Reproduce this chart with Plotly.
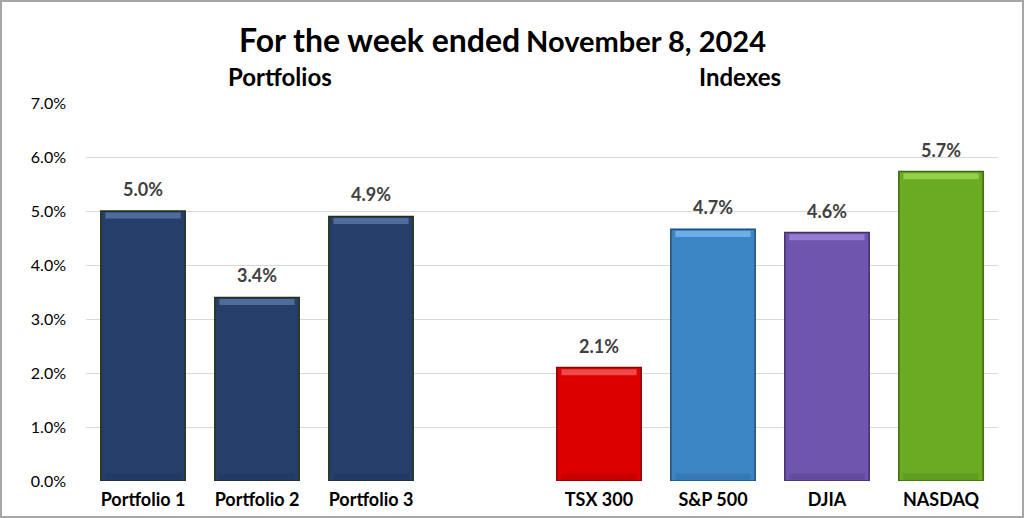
import plotly.graph_objects as go

# ---- data ----
categories = ["Portfolio 1", "Portfolio 2", "Portfolio 3", "", "TSX 300", "S&P 500", "DJIA", "NASDAQ"]
values = [5.0, 3.4, 4.9, None, 2.1, 4.66, 4.6, 5.73]
labels = ["5.0%", "3.4%", "4.9%", "", "2.1%", "4.7%", "4.6%", "5.7%"]
bar_colors = ["#263F6A", "#263F6A", "#263F6A", "#FFFFFF", "#DC0000", "#3D86C6", "#6F55AE", "#6AAB22"]
edge_colors = ["#1E3512", "#1E3512", "#1E3512", "#FFFFFF", "#8A0000", "#1F4E79", "#3F2F6A", "#3D6612"]
hi_colors = ["#4F6C9C", "#4F6C9C", "#4F6C9C", "#FFFFFF", "#F04848", "#6EAEE6", "#957ED2", "#93CF4A"]
lo_colors = ["#223A62", "#223A62", "#223A62", "#FFFFFF", "#C40000", "#3779B4", "#644C9E", "#609D1F"]
y_ticks = [0, 1, 2, 3, 4, 5, 6, 7]
y_tick_text = ["0.0%", "1.0%", "2.0%", "3.0%", "4.0%", "5.0%", "6.0%", "7.0%"]

FONT = "Lato"
pos = list(range(len(categories)))
xs = [p for p, v in zip(pos, values) if v is not None]
vs = [v for v in values if v is not None]
cs = [c for c, v in zip(bar_colors, values) if v is not None]
es = [c for c, v in zip(edge_colors, values) if v is not None]
hs = [c for c, v in zip(hi_colors, values) if v is not None]
los = [c for c, v in zip(lo_colors, values) if v is not None]
ls = [l for l, v in zip(labels, values) if v is not None]

fig = go.Figure()
fig.add_trace(go.Bar(
    x=xs, y=vs, width=0.74,
    marker=dict(color=cs, line=dict(color=es, width=1.5)),
    hoverinfo="skip", showlegend=False,
))
# top bevel highlight
fig.add_trace(go.Bar(
    x=xs, y=[0.11] * len(vs), base=[v - 0.14 for v in vs], width=0.66,
    marker=dict(color=hs, line=dict(width=0)),
    hoverinfo="skip", showlegend=False,
))
# bottom bevel shade
fig.add_trace(go.Bar(
    x=xs, y=[0.12] * len(vs), base=[0.02] * len(vs), width=0.66,
    marker=dict(color=los, line=dict(width=0)),
    hoverinfo="skip", showlegend=False,
))

value_annotations = [
    dict(x=x, y=v, xref="x", yref="y", text=f"<b>{t}</b>", showarrow=False,
         xanchor="center", yanchor="bottom", yshift=9,
         font=dict(family=FONT, size=18, color="#404040"))
    for x, v, t in zip(xs, vs, ls)
]

fig.update_layout(
    width=1024, height=518,
    margin=dict(l=86, r=26, t=103, b=37),
    paper_bgcolor="white", plot_bgcolor="white",
    barmode="overlay",
    font=dict(family=FONT, color="#000000"),
    xaxis=dict(
        range=[-0.5, 7.5], tickmode="array", tickvals=pos, ticktext=categories,
        tickfont=dict(family=FONT, size=18, color="#000000", weight="bold"),
        showgrid=False, zeroline=False, showline=False, ticks="", ticklabelstandoff=6,
        automargin=False,
    ),
    yaxis=dict(
        range=[0, 7], tickmode="array", tickvals=y_ticks, ticktext=y_tick_text,
        tickfont=dict(family=FONT, size=16, color="#000000"),
        showgrid=True, gridcolor="#D9D9D9", gridwidth=1.2, zeroline=False,
        showline=False, ticks="", ticklabelstandoff=19, automargin=False,
    ),
    annotations=value_annotations + [
        dict(xref="paper", yref="paper", x=(502 - 86) / 912, y=(518 - 39 - 37) / 378,
             xanchor="center", yanchor="middle", showarrow=False,
             text="<b><span style='font-size:32px'>For the week ended</span>&nbsp; "
                  "<span style='font-size:29px'>November 8, 2024</span></b>",
             font=dict(family=FONT, color="#000000")),
        dict(xref="paper", yref="paper", x=(280 - 86) / 912, y=(518 - 77 - 37) / 378,
             xanchor="center", yanchor="middle", showarrow=False,
             text="<b>Portfolios</b>", font=dict(family=FONT, size=24, color="#000000")),
        dict(xref="paper", yref="paper", x=(740 - 86) / 912, y=(518 - 77 - 37) / 378,
             xanchor="center", yanchor="middle", showarrow=False,
             text="<b>Indexes</b>", font=dict(family=FONT, size=24, color="#000000")),
    ],
    shapes=[dict(type="rect", xref="paper", yref="paper",
                 x0=-85 / 912, x1=1 + 25 / 912, y0=-36 / 378, y1=1 + 102 / 378,
                 line=dict(color="#A6A6A6", width=2), fillcolor="rgba(0,0,0,0)")],
)

fig.write_html("out.html", config={"displayModeBar": False},
               post_script="document.body.style.margin='0';document.body.style.overflow='hidden';")
